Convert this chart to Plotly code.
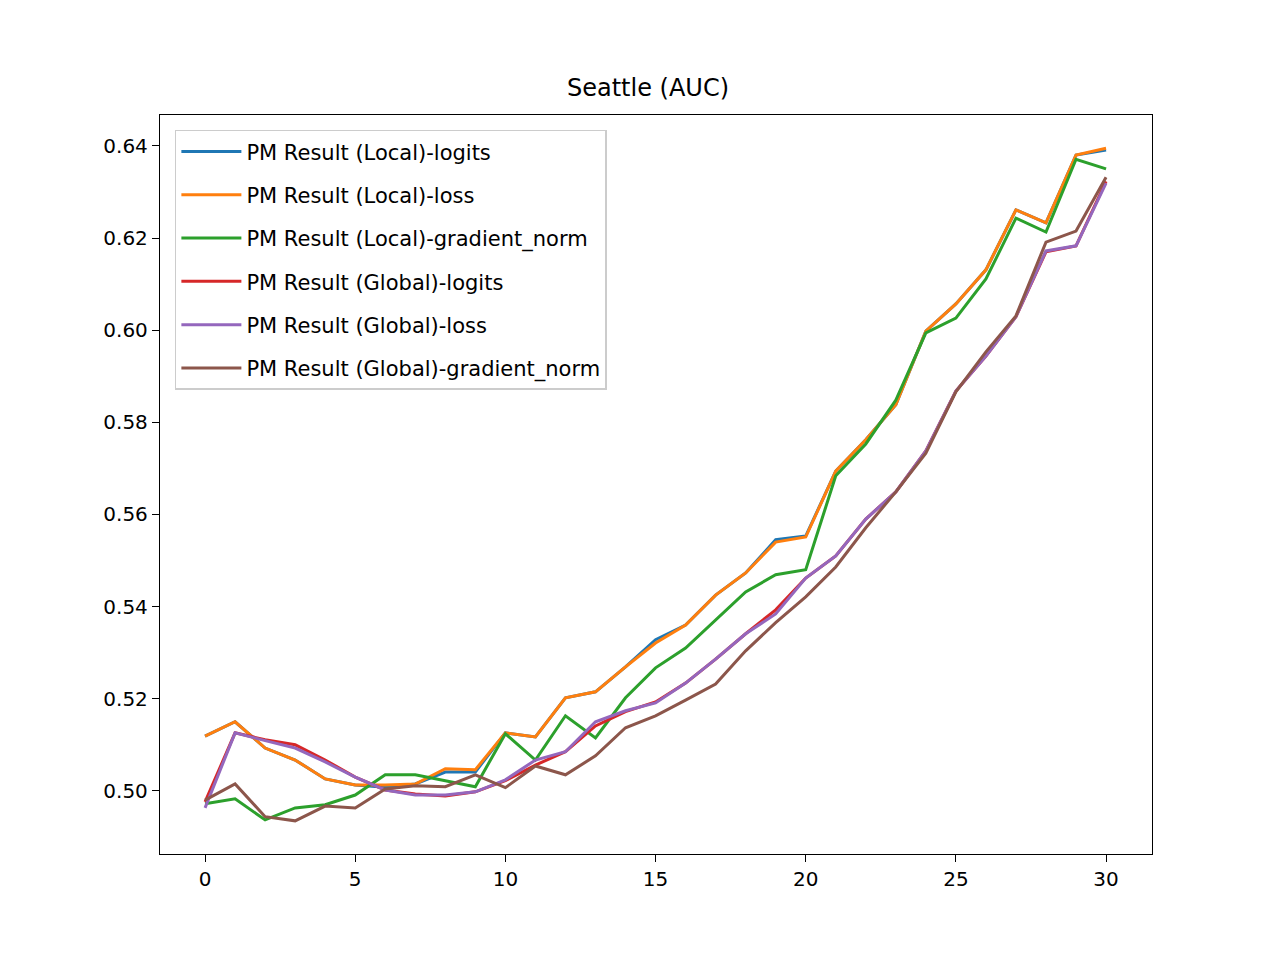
import plotly.graph_objects as go

x = list(range(31))
local_logits = [.5119,.5150,.5093,.5067,.5026,.5013,.5008,.5015,.5041,.5041,.5126,.5117,.5202,.5215,.5269,.5328,.5360,.5425,.5473,.5545,.5553,.5694,.5762,.5838,.5998,.6057,.6131,.6261,.6233,.6380,.6391]
local_loss = [.5119,.5150,.5093,.5067,.5026,.5013,.5013,.5015,.5048,.5046,.5126,.5117,.5202,.5215,.5269,.5321,.5360,.5425,.5473,.5540,.5551,.5694,.5762,.5838,.5998,.6057,.6131,.6261,.6233,.6380,.6395]
local_grad = [.4972,.4983,.4937,.4963,.4970,.4991,.5035,.5035,.5022,.5009,.5124,.5067,.5163,.5115,.5202,.5267,.5310,.5371,.5432,.5469,.5480,.5684,.5753,.5848,.5994,.6026,.6111,.6243,.6213,.6371,.6350]
global_logits = [.4976,.5126,.5111,.5100,.5067,.5030,.5002,.4993,.4989,.4998,.5022,.5056,.5085,.5141,.5172,.5193,.5234,.5286,.5341,.5393,.5462,.5510,.5590,.5649,.5738,.5868,.5944,.6029,.6170,.6183,.6323]
global_loss = [.4963,.5126,.5109,.5093,.5063,.5030,.5002,.4991,.4991,.4998,.5024,.5067,.5085,.5150,.5174,.5191,.5234,.5286,.5341,.5384,.5462,.5510,.5590,.5649,.5738,.5868,.5944,.6029,.6172,.6183,.6319]
global_grad = [.4980,.5015,.4944,.4935,.4967,.4963,.5004,.5011,.5009,.5035,.5007,.5054,.5035,.5076,.5137,.5163,.5197,.5232,.5304,.5365,.5421,.5486,.5571,.5649,.5733,.5866,.5953,.6031,.6191,.6215,.6332]

series = [
    ("PM Result (Local)-logits", local_logits, "#1f77b4"),
    ("PM Result (Local)-loss", local_loss, "#ff7f0e"),
    ("PM Result (Local)-gradient_norm", local_grad, "#2ca02c"),
    ("PM Result (Global)-logits", global_logits, "#d62728"),
    ("PM Result (Global)-loss", global_loss, "#9467bd"),
    ("PM Result (Global)-gradient_norm", global_grad, "#8c564b"),
]

fig = go.Figure()
for i, (name, y, c) in enumerate(series):
    fig.add_trace(go.Scatter(x=x, y=y, mode="lines", name=name, legendgroup=f"g{i}",
                             line=dict(color=c, width=3)))

axis_common = dict(showgrid=False, zeroline=False, showline=True, linecolor="black", linewidth=1.3,
                   mirror=True, ticks="outside", ticklen=7, tickwidth=1.3, tickcolor="black",
                   tickfont=dict(size=20, color="black"))
fig.update_xaxes(range=[-1.5, 31.53], tickvals=[0, 5, 10, 15, 20, 25, 30], **axis_common)
fig.update_yaxes(range=[0.4863, 0.6467], tickvals=[0.50, 0.52, 0.54, 0.56, 0.58, 0.60, 0.62, 0.64],
                 tickformat=".2f", **axis_common)

fig.update_layout(
    width=1280, height=960,
    margin=dict(l=152, r=136, t=107, b=114),
    paper_bgcolor="white", plot_bgcolor="white",
    font=dict(family="DejaVu Sans", color="black"),
    title=dict(text="Seattle (AUC)", x=0.5, xanchor="center", y=0.917, yanchor="middle",
               font=dict(size=24, color="black")),
    legend=dict(x=0.015, y=0.98, xanchor="left", yanchor="top", bgcolor="rgba(255,255,255,0.8)",
                bordercolor="#cccccc", borderwidth=1.5, font=dict(size=21, color="black"),
                tracegroupgap=13, itemwidth=60),
    showlegend=True,
)

fig.write_html("out.html")
